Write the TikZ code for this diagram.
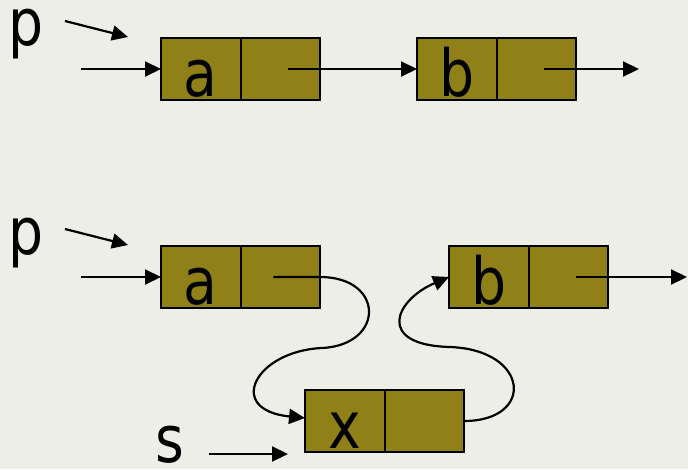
\documentclass[tikz,border=0pt]{standalone}
\usepackage{fontspec}
\setmainfont{DejaVu Sans}[FakeStretch=0.85]
\usetikzlibrary{positioning,arrows.meta}
\definecolor{olivebox}{RGB}{143,129,24}
\definecolor{slide}{RGB}{238,238,232}
\tikzset{
  cell/.style={draw,fill=olivebox,line width=2pt,inner sep=0pt,outer sep=0pt,
    minimum width=79.5pt,minimum height=62pt,text height=58pt,text depth=4pt,
    font=\fontsize{65}{78}\selectfont},
  link/.style={line width=2.2pt,-{Triangle[length=16pt,width=15pt]}},
  lbl/.style={anchor=base,inner sep=0pt,font=\fontsize{65}{78}\selectfont}
}
\begin{document}
\begin{tikzpicture}[x=1pt,y=-1pt]
\fill[slide] (0,0) rectangle (688,469); %background
\useasboundingbox (0,0) rectangle (688,469);

%before the insert
\node[lbl] (p1) at (26,45) {p};
\coordinate (p1s) at (65,21);
\coordinate (p1e) at (128,37);
\coordinate (in1) at (81,69);
\node[cell] (a1) at (200.75,69) {a};
\node[cell,right=0pt of a1] (a2) {};
\node[cell] (b1) at (456.75,69) {b};
\node[cell,right=0pt of b1] (b2) {};
\coordinate (out1) at (639,69);
\draw[link] (p1s) -- (p1e);
\draw[link] (in1) -- (a1.west);
\draw[link] ([xshift=8pt]a2.center) -- (b1.west); %next
\draw[link] ([xshift=8pt]b2.center) -- (out1);

%after the insert
\node[lbl] (p2) at (26,254) {p};
\coordinate (p2s) at (65,229);
\coordinate (p2e) at (128,245);
\coordinate (in2) at (81,277);
\node[cell] (c1) at (200.75,277) {a};
\node[cell,right=0pt of c1] (c2) {};
\node[cell] (d1) at (488.75,277) {b};
\node[cell,right=0pt of d1] (d2) {};
\coordinate (out2) at (687,277);
\node[cell] (x1) at (344.75,421) {x};
\node[cell,right=0pt of x1] (x2) {};
\node[lbl] (s) at (170,462) {s};
\coordinate (ss) at (209,454);
\coordinate (se) at (288,454);
\draw[link] (p2s) -- (p2e);
\draw[link] (in2) -- (c1.west);
\draw[link] ([xshift=8pt]d2.center) -- (out2);
\draw[link] (ss) -- (se);

%new links
\draw[link] ([xshift=-7pt]c2.center) -- (c2.east)
  .. controls (385,277) and (385,345) .. (322,348)
  .. controls (255,351) and (225,410) .. ([yshift=3pt]x1.west);
\draw[link] (x2.east)
  .. controls (535,421) and (530,350) .. (450,347)
  .. controls (375,345) and (395,300) .. (d1.west);
\end{tikzpicture}
\end{document}
